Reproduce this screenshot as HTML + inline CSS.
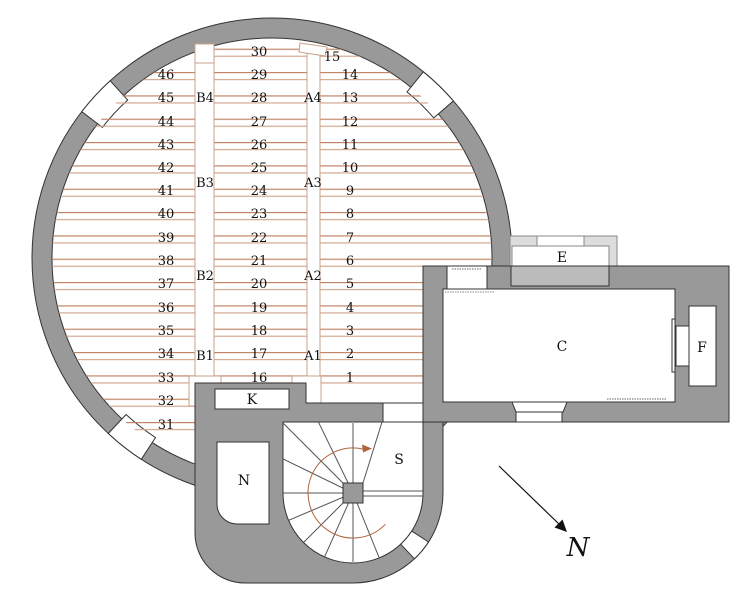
<!DOCTYPE html>
<html><head><meta charset="utf-8"><style>
html,body{margin:0;padding:0;background:#fff;}
svg{display:block;}
text{font-family:"DejaVu Serif","Liberation Serif",serif;font-size:13px;fill:#111;text-anchor:middle;}
</style></head><body>
<svg width="746" height="600" viewBox="0 0 746 600" xmlns="http://www.w3.org/2000/svg">
<defs>
<pattern id="rows" patternUnits="userSpaceOnUse" x="0" y="72" width="10" height="23.333">
<rect x="0" y="0" width="10" height="1.2" fill="#c08566"/>
<rect x="0" y="7" width="10" height="1.2" fill="#d2a790"/>
</pattern>
<clipPath id="inner"><circle cx="272" cy="258" r="220"/></clipPath>
<clipPath id="stair"><path d="M283,422 L423,422 L423,493 A70,70 0 0 1 353,563 A70,70 0 0 1 283,493 Z"/></clipPath>
</defs>

<circle cx="272" cy="258" r="240" fill="#999" stroke="#333" stroke-width="1"/>
<circle cx="272" cy="258" r="220" fill="#fff" stroke="#333" stroke-width="1"/>

<g fill="#fff" stroke="#333" stroke-width="1">
<path d="M81.8,111.6 A240,240 0 0 1 110.2,80.8 L127.7,100 A214,214 0 0 0 102.4,127.4 Z"/>
<path d="M423.4,71.8 A240,240 0 0 1 453.4,100.9 L433.8,117.9 A214,214 0 0 0 407,91.9 Z"/>
<path d="M141.3,459.3 A240,240 0 0 1 108.3,433.5 L126.1,414.5 A214,214 0 0 0 155.5,437.5 Z"/>
</g>

<g clip-path="url(#inner)">
<rect x="32" y="70" width="163" height="362" fill="url(#rows)"/>
<rect x="214" y="47" width="93" height="338" fill="url(#rows)"/>
<rect x="320" y="47" width="192" height="338" fill="url(#rows)"/>
</g>
<g stroke="#c9a08a" stroke-width="1" fill="#fff">
<line x1="195" y1="43" x2="195" y2="376"/>
<line x1="214" y1="43" x2="214" y2="376"/>
<line x1="307" y1="52" x2="307" y2="376"/>
<line x1="320" y1="54" x2="320" y2="376"/>
<rect x="195" y="44" width="19" height="19"/>
<polygon points="300,43 327,47 325,56 299,52"/>
<rect x="189" y="376" width="32" height="30"/>
<rect x="292" y="376" width="29" height="27"/>
</g>

<path d="M195,383 L306,383 L306,403 L443,403 L443,493 A90,90 0 0 1 353,583 L245,583 A50,50 0 0 1 195,533 Z" fill="#999" stroke="#333" stroke-width="1"/>
<rect x="215" y="389" width="74" height="20" fill="#fff" stroke="#333"/>
<path d="M217,442 L269,442 L269,524 L237,524 A20,20 0 0 1 217,504 Z" fill="#fff" stroke="#333"/>
<rect x="383" y="403" width="40" height="19" fill="#fff" stroke="#333"/>
<path d="M283,422 L423,422 L423,493 A70,70 0 0 1 353,563 A70,70 0 0 1 283,493 Z" fill="#fff" stroke="#333"/>
<path d="M428.5,542 A90,90 0 0 1 414.4,558.8 L400.7,544.2 A70,70 0 0 0 411.7,531.1 Z" fill="#fff" stroke="#333"/>
<g clip-path="url(#stair)" stroke="#555" stroke-width="1">
<line x1="353" y1="493" x2="304.8" y2="394.1"/>
<line x1="353" y1="493" x2="275.2" y2="415.2"/>
<line x1="353" y1="493" x2="254.1" y2="444.8"/>
<line x1="353" y1="493" x2="243" y2="493"/>
<line x1="353" y1="493" x2="251.7" y2="536"/>
<line x1="353" y1="493" x2="275.2" y2="570.8"/>
<line x1="353" y1="493" x2="308.3" y2="593.5"/>
<line x1="353" y1="493" x2="394.2" y2="595"/>
<line x1="363" y1="483" x2="382" y2="422"/>
<line x1="353" y1="493" x2="353" y2="603" stroke="#aaa" stroke-width="2"/>
<line x1="353" y1="422" x2="353" y2="483" stroke="#aaa" stroke-width="2"/>
<line x1="363" y1="491" x2="423" y2="491"/>
<line x1="363" y1="496" x2="423" y2="496"/>
</g>
<path d="M385.4,524.3 A45,45 0 1 1 364.6,449.5" fill="none" stroke="#b0643e" stroke-width="1"/>
<polygon points="372,448.5 362,444.5 363,452.5" fill="#b0643e"/>
<rect x="343" y="483" width="20" height="20" fill="#999" stroke="#333"/>

<rect x="510" y="236" width="107" height="30" fill="#ddd" stroke="#888"/>
<rect x="512" y="246" width="97" height="20" fill="#fff" stroke="#888"/>
<rect x="537" y="236" width="47" height="10" fill="#fff" stroke="#888"/>
<rect x="423" y="266" width="306" height="156" fill="#999" stroke="#333"/>
<rect x="511" y="266" width="98" height="20" fill="#bbb" stroke="#333"/>
<rect x="447" y="266" width="40" height="23" fill="#fff" stroke="#333"/>
<rect x="443" y="289" width="232" height="113" fill="#fff" stroke="#333"/>
<line x1="452" y1="269" x2="482" y2="269" stroke="#666" stroke-dasharray="1.5,1"/>
<line x1="445" y1="292" x2="495" y2="292" stroke="#888" stroke-dasharray="1.5,1"/>
<line x1="607" y1="399" x2="667" y2="399" stroke="#666" stroke-dasharray="1.5,1"/>
<rect x="689" y="306" width="27" height="80" fill="#fff" stroke="#333"/>
<rect x="676" y="326" width="13" height="40" fill="#fff" stroke="#333"/>
<rect x="672" y="319" width="3" height="53" fill="#fff" stroke="#333"/>
<polygon points="512,402 567,402 563,412 516,412" fill="#fff" stroke="#333"/>
<rect x="516" y="412" width="46" height="10" fill="#fff" stroke="#333"/>

<g>
<text x="166" y="79">46</text><text x="166" y="102">45</text><text x="166" y="126">44</text>
<text x="166" y="149">43</text><text x="166" y="172">42</text><text x="166" y="195">41</text>
<text x="166" y="218">40</text><text x="166" y="242">39</text><text x="166" y="265">38</text>
<text x="166" y="288">37</text><text x="166" y="312">36</text><text x="166" y="335">35</text>
<text x="166" y="358">34</text><text x="166" y="382">33</text><text x="166" y="405">32</text>
<text x="166" y="429">31</text>
<text x="259" y="56">30</text><text x="259" y="79">29</text><text x="259" y="102">28</text>
<text x="259" y="126">27</text><text x="259" y="149">26</text><text x="259" y="172">25</text>
<text x="259" y="195">24</text><text x="259" y="218">23</text><text x="259" y="242">22</text>
<text x="259" y="265">21</text><text x="259" y="288">20</text><text x="259" y="312">19</text>
<text x="259" y="335">18</text><text x="259" y="358">17</text><text x="259" y="382">16</text>
<text x="332" y="61">15</text><text x="350" y="79">14</text><text x="350" y="102">13</text>
<text x="350" y="126">12</text><text x="350" y="149">11</text><text x="350" y="172">10</text>
<text x="350" y="195">9</text><text x="350" y="218">8</text><text x="350" y="242">7</text>
<text x="350" y="265">6</text><text x="350" y="288">5</text><text x="350" y="312">4</text>
<text x="350" y="335">3</text><text x="350" y="358">2</text><text x="350" y="382">1</text>
<text x="205" y="102">B4</text><text x="205" y="187">B3</text><text x="205" y="280">B2</text><text x="205" y="360">B1</text>
<text x="313" y="102">A4</text><text x="313" y="187">A3</text><text x="313" y="280">A2</text><text x="313" y="360">A1</text>
<text x="252" y="404" style="font-size:14px">K</text>
<text x="244" y="485" style="font-size:14px">N</text>
<text x="399" y="464" style="font-size:14px">S</text>
<text x="562" y="351" style="font-size:14px">C</text>
<text x="702" y="352" style="font-size:14px">F</text>
<text x="562" y="262" style="font-size:14px">E</text>
</g>

<line x1="499" y1="466" x2="560" y2="525" stroke="#111" stroke-width="1.2"/>
<polygon points="567,532 562.5,519.5 554.5,527.5" fill="#111"/>
<text x="578" y="556" style="font-size:26px;font-style:italic">N</text>
</svg>
</body></html>
